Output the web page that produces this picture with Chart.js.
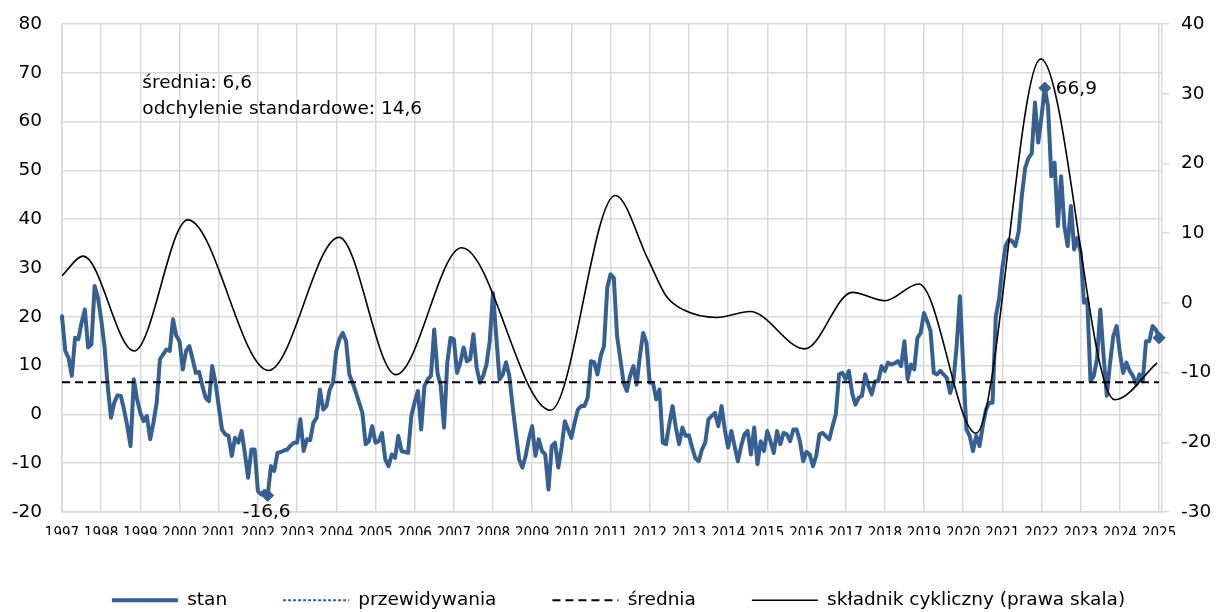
<!DOCTYPE html>
<html>
<head>
<meta charset="utf-8">
<script src="https://cdn.jsdelivr.net/npm/chart.js@4"></script>
<style>
  html, body { margin: 0; padding: 0; background: #ffffff; }
  #wrap { width: 1217px; height: 612px; position: relative; }
</style>
</head>
<body>
<div id="wrap"><canvas id="chart"></canvas></div>
<script>
// ---------------- DATA ----------------
const startYear = 1997; // first monthly observation: Jan 1997

// "stan" – monthly values, Jan 1997 .. Jan 2025
const stan = [
  20.1, 13.0, 11.6, 7.9, 15.7, 15.4, 18.8, 21.5, 13.7, 14.3, 26.3, 23.9,      // 1997
  19.5, 14.0, 5.8, -0.7, 2.4, 3.9, 3.8, 1.0, -2.4, -6.5, 7.2, 3.1,            // 1998
  0.3, -1.4, -0.3, -5.1, -1.7, 2.4, 11.3, 12.3, 13.3, 13.0, 19.5, 16.1,       // 1999
  15.0, 9.2, 13.0, 14.0, 11.3, 8.5, 8.7, 5.8, 3.4, 2.7, 9.9, 6.5,             // 2000
  1.7, -3.1, -4.1, -4.4, -8.5, -4.8, -5.8, -3.4, -7.9, -13.0, -7.2, -7.2,     // 2001
  -15.7, -16.4, -15.7, -16.6, -10.6, -11.6, -7.9, -7.7, -7.4, -7.2, -6.4, -5.8, // 2002
  -5.8, -1.0, -7.5, -5.1, -5.3, -1.7, -0.7, 5.1, 1.0, 1.7, 5.1, 6.5,          // 2003
  13.0, 15.5, 16.7, 15.0, 8.2, 6.5, 4.5, 2.4, 0.3, -6.1, -5.5, -2.4,          // 2004
  -5.8, -5.5, -3.8, -9.2, -10.6, -8.2, -8.9, -4.4, -7.5, -7.7, -7.9, -0.3,    // 2005
  2.5, 4.8, -3.1, 5.8, 7.2, 7.9, 17.4, 8.5, 5.8, -2.7, 10.6, 15.7,            // 2006
  15.4, 8.5, 10.6, 13.7, 10.9, 11.3, 16.4, 9.6, 6.5, 7.9, 10.2, 15.0,         // 2007
  24.9, 16.0, 7.2, 8.2, 10.7, 7.9, 1.7, -3.8, -9.2, -10.9, -8.5, -5.0,        // 2008
  -2.4, -8.5, -5.1, -7.5, -8.2, -15.4, -6.5, -5.8, -10.9, -6.8, -1.4, -3.1,   // 2009
  -4.8, -1.7, 1.0, 1.7, 1.7, 3.4, 10.9, 10.7, 8.2, 12.0, 14.0, 26.0,          // 2010
  28.7, 28.0, 16.1, 11.3, 6.5, 4.8, 7.9, 9.9, 6.1, 12.0, 16.7, 14.7,          // 2011
  6.5, 6.5, 3.1, 5.1, -5.8, -6.1, -2.0, 1.7, -2.7, -6.1, -2.7, -4.4,          // 2012
  -4.3, -6.8, -9.0, -9.6, -7.2, -5.8, -1.0, -0.3, 0.3, -2.4, 1.7, -3.1,       // 2013
  -6.8, -3.4, -6.5, -9.6, -6.5, -4.1, -3.4, -8.2, -2.7, -10.2, -5.5, -7.5,    // 2014
  -3.4, -5.5, -7.9, -3.4, -6.1, -3.8, -4.1, -5.5, -3.1, -3.1, -5.5, -9.6,     // 2015
  -7.7, -8.2, -10.6, -8.5, -4.1, -3.8, -4.5, -5.1, -2.4, 0.0, 8.2, 8.5,       // 2016
  7.2, 8.9, 4.4, 2.0, 3.4, 3.8, 8.2, 5.8, 4.1, 6.8, 6.8, 9.9,                 // 2017
  8.9, 10.6, 10.2, 10.5, 10.9, 9.9, 15.0, 7.2, 10.2, 9.2, 15.7, 16.7,         // 2018
  20.8, 19.1, 17.1, 8.5, 8.2, 8.9, 8.2, 7.5, 4.4, 6.5, 14.0, 24.2,            // 2019
  10.0, -3.1, -4.4, -7.5, -4.4, -6.5, -2.4, 1.0, 2.4, 2.4, 20.1, 23.6,        // 2020
  30.0, 34.5, 35.8, 35.5, 34.5, 37.5, 45.0, 50.5, 52.5, 53.5, 63.9, 55.7,     // 2021
  61.1, 66.9, 63.0, 48.8, 51.6, 38.6, 48.8, 38.6, 34.5, 42.7, 33.8, 36.2,     // 2022
  33.1, 22.9, 23.6, 6.8, 7.9, 11.3, 21.5, 12.0, 3.8, 10.6, 16.1, 18.1,        // 2023
  12.6, 8.5, 10.6, 8.9, 7.9, 6.1, 8.2, 6.8, 15.0, 15.0, 18.1, 17.4,           // 2024
  15.7                                                                        // 2025
];

// "przewidywania" – last months (forecast segment)
const przewidywania = [17.4, 15.7];

// "średnia" and standard deviation
const sredniaValue = 6.6;
const odchylenieValue = 14.6;

// "składnik cykliczny (prawa skala)" – turning points & shape points (decimal year, value)
const cycDates  = [1997.0, 1997.54, 1998.84, 2000.21, 2002.27, 2004.07, 2005.52, 2007.2, 2009.47, 2011.12,
                   2011.96, 2012.43, 2012.86, 2013.71, 2014.56, 2015.96, 2017.17, 2018.0, 2018.87, 2020.33,
                   2021.98, 2023.87, 2024.95];
const cycValues = [3.9, 6.7, -6.9, 11.9, -9.7, 9.4, -10.3, 7.9, -15.4, 15.4,
                   6.2, 0.9, -1.0, -2.1, -1.25, -6.6, 1.5, 0.3, 2.7, -18.7,
                   35.0, -13.9, -8.6];

// axis ticks
const yearTicks  = [1997,1998,1999,2000,2001,2002,2003,2004,2005,2006,2007,2008,2009,2010,
                    2011,2012,2013,2014,2015,2016,2017,2018,2019,2020,2021,2022,2023,2024,2025];
const leftTicks  = [-20, -10, 0, 10, 20, 30, 40, 50, 60, 70, 80];
const rightTicks = [-30, -20, -10, 0, 10, 20, 30, 40];

// legend / series names
const names = ['stan', 'przewidywania', 'średnia', 'składnik cykliczny (prawa skala)'];

// ---------------- BUILD ----------------
const monthX = i => startYear + i / 12;
const lastI = stan.length - 1;
const stanPts = stan.map((v, i) => ({ x: monthX(i), y: v }));
const przewPts = przewidywania.map((v, k) => ({ x: monthX(lastI - przewidywania.length + 1 + k), y: v }));
const meanPts = [{ x: monthX(0), y: sredniaValue }, { x: monthX(lastI), y: sredniaValue }];
const cycPts = cycDates.map((d, i) => ({ x: d, y: cycValues[i] }));
const minIdx = stan.indexOf(Math.min(...stan));
const maxIdx = stan.indexOf(Math.max(...stan));
const markIdx = [minIdx, maxIdx, lastI];
const fmt = v => v.toFixed(1).replace('.', ',');

const BLUE = '#366092';
const GRID = '#d9d9d9';
const TXT = '#000000';
const FONT = '"DejaVu Sans", sans-serif';
const FONT_COND = '"DejaVu Sans Condensed", "DejaVu Sans", sans-serif';

const LEGEND_H = 77;
const XAXIS_H = 23;
const LEGEND_SHIFT = 20;

const legendFit = {
  id: 'legendFit',
  beforeInit(chart) {
    const lg = chart.legend;
    const origFit = lg.fit;
    lg.fit = function () {
      origFit.call(this);
      this.height = LEGEND_H;
    };
    const origDraw = lg.draw;
    lg.draw = function () {
      this.left += LEGEND_SHIFT;
      origDraw.apply(this, arguments);
      this.left -= LEGEND_SHIFT;
    };
  }
};

const notes = {
  id: 'notes',
  afterDatasetsDraw(chart) {
    const { ctx, scales } = chart;
    const x = scales.x, y = scales.y;
    ctx.save();
    ctx.fillStyle = TXT;
    ctx.font = '18.5px ' + FONT;
    ctx.textAlign = 'left';
    ctx.textBaseline = 'alphabetic';
    ctx.fillText('średnia: ' + fmt(sredniaValue), x.getPixelForValue(1999.05), y.getPixelForValue(66.8));
    ctx.fillText('odchylenie standardowe: ' + fmt(odchylenieValue), x.getPixelForValue(1999.05), y.getPixelForValue(61.6));
    const meta = chart.getDatasetMeta(0);
    const pMax = meta.data[maxIdx];
    ctx.textBaseline = 'middle';
    ctx.fillText(fmt(stan[maxIdx]), pMax.x + 11, pMax.y + 1);
    const pMin = meta.data[minIdx];
    ctx.textAlign = 'center';
    ctx.textBaseline = 'alphabetic';
    ctx.fillText(fmt(stan[minIdx]), pMin.x - 1, pMin.y + 22);
    ctx.restore();
  }
};

new Chart(document.getElementById('chart'), {
  type: 'line',
  data: {
    datasets: [
      {
        label: names[0], data: stanPts, yAxisID: 'y', order: 3,
        borderColor: BLUE, backgroundColor: BLUE, borderWidth: 4,
        tension: 0, borderJoinStyle: 'round', borderCapStyle: 'round',
        pointStyle: 'rectRot',
        pointRadius: c => markIdx.includes(c.dataIndex) ? 6 : 0,
        pointHoverRadius: 0,
        pointBackgroundColor: BLUE, pointBorderColor: BLUE, pointBorderWidth: 1,
        clip: false
      },
      {
        label: names[1], data: przewPts, yAxisID: 'y', order: 2,
        borderColor: BLUE, backgroundColor: BLUE, borderWidth: 2, borderDash: [3, 2],
        pointRadius: 0, pointHoverRadius: 0
      },
      {
        label: names[2], data: meanPts, yAxisID: 'y', order: 1,
        borderColor: '#000000', backgroundColor: '#000000', borderWidth: 2, borderDash: [8, 5],
        pointRadius: 0, pointHoverRadius: 0
      },
      {
        label: names[3], data: cycPts, yAxisID: 'y2', order: 0,
        borderColor: '#000000', backgroundColor: '#000000', borderWidth: 1.6,
        cubicInterpolationMode: 'monotone',
        pointRadius: 0, pointHoverRadius: 0
      }
    ]
  },
  options: {
    responsive: true,
    maintainAspectRatio: false,
    animation: false,
    events: [],
    layout: { padding: { top: 24, left: 0, right: 0, bottom: 0 } },
    scales: {
      x: {
        type: 'linear',
        min: 1997,
        max: 2025.075,
        afterBuildTicks: s => { s.ticks = yearTicks.map(v => ({ value: v })); },
        afterFit: s => { s.height = XAXIS_H; },
        ticks: {
          autoSkip: false, maxRotation: 0, padding: 13,
          color: TXT, font: { family: FONT_COND, size: 15 },
          callback: v => String(v)
        },
        grid: { color: GRID, lineWidth: 1.5, drawTicks: false },
        border: { display: true, color: GRID, width: 1.5 }
      },
      y: {
        position: 'left',
        min: -20, max: 80,
        afterBuildTicks: s => { s.ticks = leftTicks.map(v => ({ value: v })); },
        afterFit: s => { s.width = 62; },
        ticks: { padding: 3, color: TXT, font: { family: FONT, size: 18.5 }, callback: v => String(v) },
        grid: { color: GRID, lineWidth: 1.5, drawTicks: true, tickLength: 17, tickColor: 'rgba(0,0,0,0)' },
        border: { display: true, color: GRID, width: 1.5 }
      },
      y2: {
        position: 'right',
        min: -30, max: 40,
        afterBuildTicks: s => { s.ticks = rightTicks.map(v => ({ value: v })); },
        afterFit: s => { s.width = 55; },
        ticks: { padding: 12, color: TXT, font: { family: FONT, size: 18.5 }, callback: v => String(v) },
        grid: { drawOnChartArea: false, color: GRID, lineWidth: 1.5, drawTicks: true, tickLength: 7 },
        border: { display: true, color: GRID, width: 1.5 }
      }
    },
    plugins: {
      tooltip: { enabled: false },
      legend: {
        position: 'bottom',
        align: 'center',
        labels: {
          usePointStyle: true,
          pointStyleWidth: 66,
          padding: 56,
          color: TXT,
          font: { family: FONT, size: 18.5 },
          generateLabels: chart => chart.data.datasets.map((ds, i) => ({
            text: ds.label,
            datasetIndex: i,
            hidden: false,
            fontColor: TXT,
            fillStyle: ds.borderColor,
            strokeStyle: ds.borderColor,
            lineWidth: ds.borderWidth,
            lineDash: ds.borderDash || [],
            lineCap: 'butt',
            pointStyle: 'line',
            rotation: 0
          }))
        }
      }
    }
  },
  plugins: [legendFit, notes]
});
</script>
</body>
</html>
